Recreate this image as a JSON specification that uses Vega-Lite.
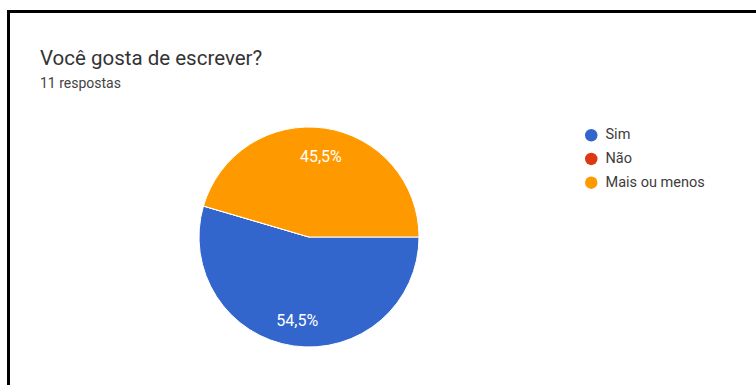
{
  "$schema": "https://vega.github.io/schema/vega-lite/v6.json",
  "width": 748,
  "height": 374,
  "autosize": {"type": "none"},
  "padding": {"left": 8, "top": 11, "right": 0, "bottom": 0},
  "background": "white",
  "title": {
    "text": "Você gosta de escrever?",
    "subtitle": "11 respostas",
    "anchor": "start",
    "frame": "group",
    "orient": "top",
    "offset": -83,
    "dx": 32,
    "font": "Roboto",
    "fontSize": 20.5,
    "fontWeight": "normal",
    "color": "#333333",
    "subtitleFont": "Roboto",
    "subtitleFontSize": 14,
    "subtitleColor": "#444444",
    "subtitlePadding": 8
  },
  "data": {
    "values": [
      {"resposta": "Sim", "respostas": 6, "percentual": 0.5455, "ordem": 1},
      {"resposta": "Não", "respostas": 0, "percentual": 0.0, "ordem": 2},
      {"resposta": "Mais ou menos", "respostas": 5, "percentual": 0.4545, "ordem": 3}
    ]
  },
  "layer": [
    {
      "mark": {"type": "point", "opacity": 0},
      "encoding": {
        "x": {
          "field": "respostas",
          "type": "quantitative",
          "axis": {"orient": "top", "title": null, "labels": false, "ticks": false, "grid": false, "domain": true, "domainColor": "black", "domainWidth": 3, "domainCap": "square"}
        },
        "y": {
          "field": "ordem",
          "type": "quantitative",
          "axis": {"orient": "left", "title": null, "labels": false, "ticks": false, "grid": false, "domain": true, "domainColor": "black", "domainWidth": 3, "domainCap": "square"}
        }
      }
    },
    {
      "mark": {"type": "arc", "x": 301, "y": 226, "outerRadius": 110, "stroke": "white", "strokeWidth": 1},
      "encoding": {
        "theta": {"field": "respostas", "type": "quantitative", "stack": true, "scale": {"range": [1.5708, 7.854]}},
        "order": {"field": "ordem", "type": "quantitative"},
        "color": {
          "field": "resposta",
          "type": "nominal",
          "scale": {"domain": ["Sim", "Não", "Mais ou menos"], "range": ["#3366CC", "#DC3912", "#FF9900"]},
          "sort": ["Sim", "Não", "Mais ou menos"],
          "legend": {
            "title": null,
            "orient": "none",
            "legendX": 576,
            "legendY": 117,
            "padding": 0,
            "symbolType": "circle",
            "symbolSize": 156,
            "symbolStrokeWidth": 0,
            "labelFont": "Roboto",
            "labelFontSize": 14.5,
            "labelColor": "#3c3c3c",
            "labelOffset": 7,
            "rowPadding": 8.7
          }
        }
      }
    },
    {
      "transform": [{"filter": "datum.respostas > 0"}],
      "mark": {"type": "text", "x": 301, "y": 226, "radius": 83, "dy": 2, "font": "Roboto", "fontSize": 16, "fill": "white"},
      "encoding": {
        "theta": {"field": "respostas", "type": "quantitative", "stack": true, "scale": {"range": [1.5708, 7.854]}},
        "order": {"field": "ordem", "type": "quantitative"},
        "text": {"field": "percentual", "type": "quantitative", "format": ".1%"}
      }
    }
  ],
  "config": {
    "view": {"stroke": null},
    "style": {"cell": {"stroke": null}, "view": {"stroke": null}},
    "locale": {"number": {"decimal": ",", "thousands": ".", "grouping": [3], "currency": ["", " €"]}}
  }
}
